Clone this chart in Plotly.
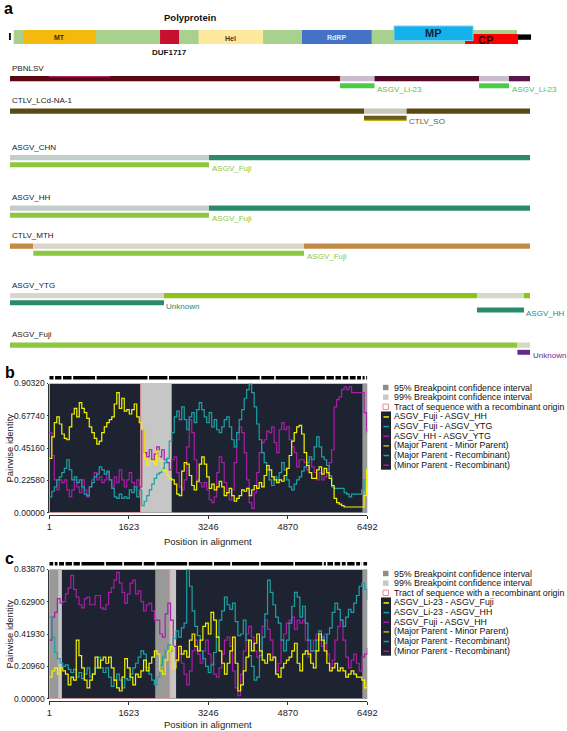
import plotly.graph_objects as go

W, H = 567, 731
def px(x):
    return x / W
def py(y):
    return 1 - y / H

FONT = "Liberation Sans, Arial, sans-serif"

# ======================= DATA =======================
# ---- panel a: genome map (alignment coordinates) ----
genome_span = [47, 6330]
feat_names = ["MT", "DUF1717", "Hel", "RdRP", "CP", "MP"]
feat_start = [170, 1874, 2355, 3646, 5681, 4795]
feat_end = [1075, 2111, 3160, 4515, 6343, 5781]
tail_span = [6343, 6505]
start_mark = [-12, 12]

# ---- panel a: recombinant sequences ----
seq_names = ["PBNLSV", "CTLV_LCd-NA-1", "ASGV_CHN", "ASGV_HH", "CTLV_MTH", "ASGV_YTG", "ASGV_Fuji"]
seq_breaks = [
    [1, 4120, 4551, 5856, 6230, 6492],
    [1, 4420, 4951, 6492],
    [1, 2485, 6492],
    [1, 2485, 6492],
    [1, 292, 3671, 6492],
    [1, 1923, 5830, 6417, 6492],
    [1, 6335, 6492],
]
pbnlsv_stripe = [488, 1249]
# parental tracts shown under each recombinant
parent_row = [0, 0, 1, 2, 3, 4, 5, 5, 6]
parent_level = [0, 0, 0, 0, 0, 0, 0, 1, 0]
parent_start = [4120, 5856, 4420, 1, 1, 292, 1, 5830, 6335]
parent_end = [4551, 6230, 4951, 2485, 2485, 3671, 1923, 6417, 6492]
parent_names = ["ASGV_Li-23", "ASGV_Li-23", "CTLV_SO", "ASGV_Fuji", "ASGV_Fuji",
                "ASGV_Fuji", "Unknown", "ASGV_HH", "Unknown"]

# ---- panel b ----
b_pos = list(range(1, 6492, 51)) + [6492]
b_yellow = [0.38, 0.53, 0.63, 0.67, 0.62, 0.55, 0.52, 0.51, 0.60, 0.69,
            0.73, 0.67, 0.77, 0.73, 0.70, 0.66, 0.60, 0.56, 0.52, 0.48,
            0.50, 0.56, 0.60, 0.63, 0.65, 0.67, 0.76, 0.84, 0.73, 0.80,
            0.71, 0.72, 0.69, 0.72, 0.76, 0.67, 0.63, 0.58, 0.38, 0.33,
            0.36, 0.36, 0.34, 0.43, 0.36, 0.30, 0.29, 0.26, 0.24, 0.23,
            0.20, 0.13, 0.12, 0.29, 0.35, 0.34, 0.26, 0.19, 0.16, 0.22,
            0.34, 0.39, 0.34, 0.25, 0.17, 0.20, 0.16, 0.18, 0.22, 0.18,
            0.12, 0.14, 0.17, 0.12, 0.08, 0.10, 0.12, 0.16, 0.15, 0.17,
            0.12, 0.16, 0.19, 0.17, 0.21, 0.18, 0.26, 0.33, 0.30, 0.25,
            0.23, 0.21, 0.23, 0.22, 0.26, 0.31, 0.40, 0.50, 0.56, 0.60,
            0.61, 0.55, 0.42, 0.33, 0.28, 0.24, 0.24, 0.30, 0.32, 0.27,
            0.31, 0.28, 0.24, 0.19, 0.10, 0.07, 0.06, 0.05, 0.04, 0.04,
            0.04, 0.04, 0.04, 0.04, 0.04, 0.04, 0.12, 0.30, 0.32]
b_teal = [0.11, 0.15, 0.18, 0.23, 0.25, 0.28, 0.31, 0.37, 0.30, 0.23,
          0.25, 0.21, 0.23, 0.18, 0.13, 0.12, 0.18, 0.21, 0.25, 0.27,
          0.32, 0.30, 0.27, 0.29, 0.23, 0.17, 0.11, 0.10, 0.13, 0.10,
          0.11, 0.10, 0.16, 0.14, 0.18, 0.11, 0.16, 0.05, 0.08, 0.12,
          0.16, 0.20, 0.24, 0.27, 0.28, 0.31, 0.35, 0.38, 0.50, 0.56,
          0.67, 0.71, 0.65, 0.74, 0.65, 0.58, 0.67, 0.70, 0.63, 0.72,
          0.77, 0.72, 0.67, 0.63, 0.70, 0.60, 0.65, 0.58, 0.56, 0.60,
          0.65, 0.67, 0.60, 0.51, 0.46, 0.56, 0.65, 0.72, 0.80, 0.86,
          0.90, 0.84, 0.74, 0.62, 0.51, 0.42, 0.35, 0.30, 0.23, 0.19,
          0.25, 0.23, 0.28, 0.35, 0.30, 0.23, 0.18, 0.16, 0.20, 0.23,
          0.25, 0.29, 0.32, 0.35, 0.39, 0.37, 0.46, 0.53, 0.46, 0.39,
          0.37, 0.33, 0.26, 0.18, 0.17, 0.17, 0.17, 0.17, 0.14, 0.13,
          0.11, 0.13, 0.13, 0.13, 0.13, 0.16, 0.23, 0.18, 0.18]
b_magenta = [0.56, 0.40, 0.23, 0.16, 0.23, 0.21, 0.23, 0.16, 0.11, 0.16,
             0.23, 0.18, 0.14, 0.23, 0.16, 0.11, 0.18, 0.23, 0.28, 0.23,
             0.25, 0.21, 0.23, 0.28, 0.23, 0.18, 0.25, 0.21, 0.30, 0.23,
             0.18, 0.23, 0.28, 0.21, 0.16, 0.23, 0.18, 0.58, 0.42, 0.39,
             0.44, 0.37, 0.41, 0.46, 0.39, 0.44, 0.37, 0.35, 0.30, 0.37,
             0.39, 0.28, 0.18, 0.16, 0.23, 0.46, 0.65, 0.56, 0.37, 0.23,
             0.21, 0.18, 0.21, 0.16, 0.09, 0.07, 0.11, 0.28, 0.39, 0.35,
             0.21, 0.14, 0.09, 0.16, 0.35, 0.51, 0.60, 0.56, 0.42, 0.23,
             0.07, 0.03, 0.14, 0.28, 0.42, 0.49, 0.51, 0.57, 0.56, 0.60,
             0.49, 0.42, 0.58, 0.63, 0.58, 0.60, 0.51, 0.46, 0.42, 0.32,
             0.37, 0.37, 0.35, 0.30, 0.37, 0.32, 0.28, 0.23, 0.28, 0.23,
             0.25, 0.30, 0.35, 0.44, 0.74, 0.79, 0.81, 0.86, 0.88, 0.86,
             0.88, 0.84, 0.84, 0.84, 0.84, 0.84, 0.70, 0.58, 0.56]
b_pairs = ["ASGV_Fuji - ASGV_HH", "ASGV_Fuji - ASGV_YTG", "ASGV_HH - ASGV_YTG"]
b_ci99 = [(1867, 2500), (6398, 6492)]
b_ci95 = [(6398, 6492)]
b_tract = (1, 1867)
b_track_gaps = [103, 265, 472, 952, 2022, 2428, 3832, 4312, 4608, 5308, 5641,
                5826, 5973, 6120, 6269, 6379, 6453]
b_yticks = [0.0, 0.2258, 0.4516, 0.6774, 0.9032]

# ---- panel c ----
c_pos = list(range(1, 6491, 55)) + [6492]
c_yellow = [0.14, 0.18, 0.20, 0.16, 0.20, 0.18, 0.16, 0.09, 0.14, 0.12,
            0.38, 0.28, 0.20, 0.12, 0.07, 0.12, 0.16, 0.27, 0.20, 0.25,
            0.27, 0.23, 0.27, 0.20, 0.12, 0.07, 0.05, 0.14, 0.26, 0.20,
            0.14, 0.09, 0.16, 0.14, 0.18, 0.25, 0.18, 0.23, 0.27, 0.31,
            0.29, 0.18, 0.16, 0.25, 0.31, 0.34, 0.20, 0.25, 0.34, 0.29,
            0.31, 0.27, 0.38, 0.42, 0.34, 0.31, 0.38, 0.47, 0.49, 0.42,
            0.56, 0.51, 0.40, 0.31, 0.23, 0.16, 0.23, 0.31, 0.40, 0.23,
            0.05, 0.09, 0.18, 0.27, 0.38, 0.31, 0.36, 0.42, 0.31, 0.25,
            0.23, 0.29, 0.25, 0.27, 0.16, 0.14, 0.20, 0.23, 0.25, 0.27,
            0.31, 0.36, 0.23, 0.18, 0.29, 0.31, 0.29, 0.23, 0.20, 0.31,
            0.42, 0.38, 0.31, 0.23, 0.18, 0.20, 0.23, 0.18, 0.20, 0.18,
            0.14, 0.16, 0.18, 0.16, 0.14, 0.14, 0.12, 0.07, 0.11]
c_teal = [0.53, 0.40, 0.30, 0.26, 0.23, 0.21, 0.22, 0.19, 0.17, 0.19,
          0.14, 0.17, 0.13, 0.16, 0.20, 0.14, 0.16, 0.20, 0.27, 0.20,
          0.17, 0.20, 0.14, 0.08, 0.12, 0.16, 0.12, 0.07, 0.13, 0.12,
          0.16, 0.20, 0.23, 0.27, 0.31, 0.29, 0.20, 0.16, 0.12, 0.09,
          0.14, 0.22, 0.27, 0.31, 0.35, 0.31, 0.39, 0.44, 0.40, 0.46,
          0.49, 0.84, 0.73, 0.57, 0.47, 0.41, 0.31, 0.26, 0.21, 0.17,
          0.22, 0.30, 0.40, 0.51, 0.57, 0.66, 0.61, 0.58, 0.62, 0.50,
          0.41, 0.42, 0.51, 0.38, 0.28, 0.21, 0.12, 0.14, 0.28, 0.40,
          0.55, 0.77, 0.69, 0.61, 0.53, 0.49, 0.38, 0.31, 0.38, 0.49,
          0.60, 0.69, 0.66, 0.53, 0.60, 0.49, 0.38, 0.31, 0.31, 0.38,
          0.44, 0.40, 0.36, 0.42, 0.46, 0.56, 0.62, 0.58, 0.51, 0.47,
          0.53, 0.58, 0.56, 0.62, 0.67, 0.73, 0.75, 0.71, 0.64]
c_magenta = [0.38, 0.53, 0.56, 0.65, 0.62, 0.63, 0.68, 0.72, 0.80, 0.71,
             0.66, 0.61, 0.59, 0.65, 0.66, 0.61, 0.61, 0.67, 0.67, 0.59,
             0.58, 0.61, 0.69, 0.72, 0.77, 0.82, 0.75, 0.69, 0.62, 0.68,
             0.75, 0.77, 0.68, 0.70, 0.63, 0.57, 0.61, 0.62, 0.57, 0.51,
             0.51, 0.42, 0.40, 0.55, 0.62, 0.51, 0.34, 0.24, 0.29, 0.23,
             0.16, 0.09, 0.18, 0.31, 0.38, 0.29, 0.23, 0.31, 0.38, 0.29,
             0.23, 0.16, 0.14, 0.20, 0.29, 0.38, 0.40, 0.34, 0.18, 0.07,
             0.02, 0.16, 0.31, 0.42, 0.47, 0.40, 0.31, 0.27, 0.31, 0.47,
             0.51, 0.45, 0.38, 0.27, 0.18, 0.23, 0.38, 0.42, 0.49, 0.51,
             0.53, 0.45, 0.51, 0.49, 0.51, 0.38, 0.27, 0.31, 0.38, 0.42,
             0.38, 0.34, 0.42, 0.29, 0.20, 0.25, 0.38, 0.47, 0.51, 0.38,
             0.27, 0.20, 0.25, 0.29, 0.23, 0.18, 0.27, 0.29, 0.33]
c_pairs = ["ASGV_Li-23 - ASGV_Fuji", "ASGV_Li-23 - ASGV_HH", "ASGV_Fuji - ASGV_HH"]
c_ci99 = [(1, 258), (2170, 2589), (6397, 6492)]
c_ci95 = [(1, 185), (2170, 2464), (6397, 6492)]
c_tract = (1, 2464)
c_track_gaps = [97, 185, 317, 479, 641, 1140, 1508, 1912, 2170, 2831, 3346, 3713,
                4301, 5000, 5588, 5661, 5808, 5955, 6066, 6249, 6360, 6397]
c_yticks = [0.0, 0.2096, 0.4193, 0.629, 0.8387]

x_ticks = [1, 1623, 3246, 4870, 6492]
role_names = ["(Major Parent - Minor Parent)", "(Major Parent - Recombinant)",
              "(Minor Parent - Recombinant)"]
ci_labels = ["95% Breakpoint confidence interval", "99% Breakpoint confidence interval",
             "Tract of sequence with a recombinant origin"]

# ======================= STYLE / LAYOUT =======================
feat_colors = ["#f5b80c", "#c8102e", "#fde89c", "#4472c4", "#ff0000", "#14b2ec"]
feat_y = [(30, 44), (30, 44), (30, 44), (30, 44), (34, 44), (26, 40.5)]
feat_label = {"MT": (7, "#3b2b00", 37), "Hel": (7, "#3a3a20", 38), "RdRP": (7, "#e6e8f5", 37),
              "MP": (11, "#0b2236", 32.5), "CP": (11, "#3a0000", 39.5)}
feat_label_dx = {"MT": 0, "Hel": 0, "RdRP": 0, "MP": 0, "CP": -6}
seq_colors = [
    ["#5b0610", "#c9bccb", "#520826", "#c9bccb", "#5a1452"],
    ["#5a4a12", "#c9c6ba", "#5a4a12"],
    ["#c3cdc9", "#2a8a6e"],
    ["#c3cdc9", "#2a8a6e"],
    ["#c28b45", "#d9d5c9", "#c28b45"],
    ["#d6d9ca", "#8dc21c", "#d6d9ca", "#8dc21c"],
    ["#8dc63f", "#d4d8c4"],
]
parent_colors = {"ASGV_Li-23": ("#4ccb48", "#52c44e"), "CTLV_SO": ("#6b5a1a", "#6b5a1e"),
                 "ASGV_Fuji": ("#8dc63f", "#8dc63f"), "Unknown": ("#2a8a6e", "#2a8a6e"),
                 "ASGV_HH": ("#2a8a6e", "#2a8a6e")}
label_y = [68, 100.5, 147, 197.5, 235.5, 285, 334.5]
BAR_OFF, BAR_H, SUB_GAP, SUB_H = 8.0, 5.3, 2.0, 5.0

YELLOW, TEAL, MAGENTA = "#f2f200", "#1ba2a6", "#a81ea6"
DARK = "#1d2331"
GRAY99, GRAY95 = "#c6c6c6", "#999999"
PINK = "#f2a0a0"

shapes, annotations, traces = [], [], []

def rect(xref, yref, x0, x1, y0, y1, fill, lc="rgba(0,0,0,0)", lw=0, layer="above"):
    shapes.append(dict(type="rect", xref=xref, yref=yref, x0=x0, x1=x1, y0=y0, y1=y1,
                       fillcolor=fill, layer=layer, line=dict(color=lc, width=lw)))

def text(x, y, s, size=9, color="#111", xref="paper", yref="paper", xanchor="left",
         bold=False, angle=0, xshift=0):
    annotations.append(dict(x=x, y=y, xref=xref, yref=yref, text=("<b>%s</b>" % s) if bold else s,
                            showarrow=False, xanchor=xanchor, yanchor="middle", textangle=angle,
                            xshift=xshift, font=dict(family=FONT, size=size, color=color),
                            borderpad=0))

# ---------- panel a ----------
rect("x", "y", start_mark[0], start_mark[1], 33, 40, "#111")
rect("x", "y", genome_span[0], genome_span[1], 30, 44, "#a9d18e")
for n, s, e, c, (y0, y1) in zip(feat_names, feat_start, feat_end, feat_colors, feat_y):
    lc = "#7fd0ee" if n == "MP" else "rgba(0,0,0,0)"
    rect("x", "y", s, e, y0, y1, c, lc=lc, lw=1 if n == "MP" else 0)
rect("x", "y", tail_span[0], tail_span[1], 34.4, 39.8, "#000")
for n, s, e in zip(feat_names, feat_start, feat_end):
    if n in feat_label:
        sz, col, yy = feat_label[n]
        text((s + e) / 2, yy, n, size=sz, color=col, xref="x", yref="y", xanchor="center",
             bold=True, xshift=feat_label_dx[n])
text((feat_start[1] + feat_end[1]) / 2, 52.5, "DUF1717", size=8, color="#111", xref="x", yref="y",
     xanchor="center", bold=True)
text(px(190), py(18), "Polyprotein", size=9.5, color="#111", xanchor="center", bold=True)

for i, (name, br) in enumerate(zip(seq_names, seq_breaks)):
    top = label_y[i] + BAR_OFF
    text(br[0], label_y[i], name, size=8, color="#1a1a1a", xref="x", yref="y", xshift=1)
    for j in range(len(br) - 1):
        rect("x", "y", br[j], br[j + 1], top, top + BAR_H, seq_colors[i][j])
    if i == 0:
        rect("x", "y", pbnlsv_stripe[0], pbnlsv_stripe[1], top, top + 1.2, "#b0246e")
for r, lv, s, e, n in zip(parent_row, parent_level, parent_start, parent_end, parent_names):
    top = label_y[r] + BAR_OFF + BAR_H + SUB_GAP + lv * (SUB_H + 2.3)
    fill, tc = parent_colors[n]
    if r == 6:
        fill, tc = "#6a2a8a", "#6a2a8a"
    rect("x", "y", s, e, top, top + SUB_H, fill)
    if n == "CTLV_SO":
        rect("x", "y", s, e, top + SUB_H - 1, top + SUB_H, "#c8c400")
    text(e, top + SUB_H + 1, n, size=8, color=tc, xref="x", yref="y", xshift=1.5)

# ---------- panels b and c ----------
def track_xy(gaps, half=16):
    xs, ys, start = [], [], 1
    for g in gaps:
        xs += [start, g - half, None]
        ys += [0.5, 0.5, None]
        start = g + half
    xs += [start, 6492]
    ys += [0.5, 0.5]
    return xs, ys

def panel(xa, ya, ta, pos, series, top_val, ci99, ci95, tract, gaps, pairs, top_px, letter,
          xtitle_px):
    xr, yr = xa.replace("axis", ""), ya.replace("axis", "")
    rect(xr, yr, 1, 6492, 0, top_val, DARK, layer="below")
    for s, e in ci99:
        rect(xr, yr, s, e, 0, top_val, GRAY99, layer="below")
    for s, e in ci95:
        rect(xr, yr, s, e, 0, top_val, GRAY95, layer="below")
    rect(xr, yr, tract[0], tract[1], 0, top_val, "rgba(0,0,0,0)", lc=PINK, lw=1, layer="below")
    for vals, col in zip(series, [MAGENTA, TEAL, YELLOW]):
        traces.append(go.Scatter(x=pos, y=vals, mode="lines", xaxis=xr, yaxis=yr,
                                 line=dict(color=col, width=1.2, shape="hv"), showlegend=False,
                                 hoverinfo="skip"))
    tx, ty = track_xy(gaps)
    traces.append(go.Scatter(x=tx, y=ty, mode="lines", xaxis=xr, yaxis=ta.replace("axis", ""),
                             line=dict(color="#000", width=3.5), showlegend=False,
                             hoverinfo="skip"))
    # letter, axis titles
    text(px(4), py(top_px - 11), letter, size=16, color="#000", bold=True)
    text(px(9.5), py(top_px + 64.6), "Pairwise identity", size=9.5, color="#222",
         xanchor="center", angle=-90)
    text(px(208.3), py(xtitle_px), "Position in alignment", size=9.5, color="#222",
         xanchor="center")
    # legend
    lx, ty0, step = 392.7, top_px + 4, 9.65
    sw_x0, sw_x1 = 383, 388.5
    for k, lab in enumerate(ci_labels):
        yy = ty0 + k * step
        if k == 0:
            rect("paper", "paper", px(sw_x0), px(sw_x1), py(yy + 2.7), py(yy - 2.7), "#8c8c8c")
        elif k == 1:
            rect("paper", "paper", px(sw_x0), px(sw_x1), py(yy + 2.7), py(yy - 2.7), "#c8c8c8")
        else:
            rect("paper", "paper", px(sw_x0), px(sw_x1), py(yy + 2.7), py(yy - 2.7), "white",
                 lc="#f08a8a", lw=1)
        text(px(lx), py(yy), lab, size=8.8, color="#111")
    box_top = ty0 + 3 * step - 5
    box_bot = ty0 + 8 * step + 5
    rect("paper", "paper", px(381), px(391), py(box_bot), py(box_top), DARK)
    names = pairs + role_names
    cols = [YELLOW, TEAL, MAGENTA, "#b8b820", TEAL, MAGENTA]
    for k, (lab, col) in enumerate(zip(names, cols)):
        yy = ty0 + (3 + k) * step
        shapes.append(dict(type="line", xref="paper", yref="paper", x0=px(383.5), x1=px(389),
                           y0=py(yy + 0.5), y1=py(yy + 0.5), line=dict(color=col, width=1.5)))
        text(px(lx), py(yy), lab, size=8.8, color="#111")

B_TOP, B_BOT = 383.5, 512.7
C_TOP, C_BOT = 569.5, 698.7
panel("xaxis2", "yaxis2", "yaxis4", b_pos, [b_magenta, b_teal, b_yellow], b_yticks[-1],
      b_ci99, b_ci95, b_tract, b_track_gaps, b_pairs, B_TOP, "b", 541)
panel("xaxis3", "yaxis3", "yaxis5", c_pos, [c_magenta, c_teal, c_yellow], c_yticks[-1],
      c_ci99, c_ci95, c_tract, c_track_gaps, c_pairs, C_TOP, "c", 724.5)
text(px(3), py(8), "a", size=16, color="#000", bold=True)

fig = go.Figure(traces)
xdom = [px(49.3), px(367.3)]
def xax(pos_px):
    return dict(domain=xdom, range=[1, 6492], anchor="free", position=py(pos_px),
                showline=True, linecolor="#333", linewidth=1, ticks="outside", ticklen=3,
                tickcolor="#333", tickvals=x_ticks, ticktext=[str(v) for v in x_ticks],
                tickfont=dict(family=FONT, size=9.3, color="#222"), showgrid=False,
                zeroline=False, automargin=False)
def yax(top, bot, ticks):
    return dict(domain=[py(bot), py(top)], range=[0, ticks[-1]], anchor="free",
                position=px(47.5), showline=True, linecolor="#333", linewidth=1,
                ticks="outside", ticklen=1, tickcolor="#333", tickvals=ticks,
                ticktext=["%.5f" % v for v in ticks],
                tickfont=dict(family=FONT, size=8.5, color="#222"), showgrid=False,
                zeroline=False, automargin=False)
a_scale = 6491 / 520
fig.update_layout(
    template="none",
    width=W, height=H, margin=dict(l=0, r=0, t=0, b=0, pad=0), autosize=False,
    paper_bgcolor="white", plot_bgcolor="white", showlegend=False,
    xaxis=dict(domain=[0, 1], range=[1 - 10 * a_scale, 1 + 557 * a_scale], visible=False,
               automargin=False),
    yaxis=dict(domain=[py(360), 1], range=[360, 0], visible=False, automargin=False),
    xaxis2=xax(B_BOT + 2.3),
    yaxis2=yax(B_TOP, B_BOT, b_yticks),
    xaxis3=xax(C_BOT + 2.3),
    yaxis3=yax(C_TOP, C_BOT, c_yticks),
    yaxis4=dict(domain=[py(B_TOP - 3), py(B_TOP - 8.5)], range=[0, 1], anchor="x2",
                visible=False, automargin=False),
    yaxis5=dict(domain=[py(C_TOP - 3), py(C_TOP - 8.5)], range=[0, 1], anchor="x3",
                visible=False, automargin=False),
    shapes=shapes, annotations=annotations,
)
fig.write_html("out.html", config={"displayModeBar": False, "staticPlot": True},
               post_script="document.body.style.margin='0';document.body.style.padding='0';"
                           "document.body.style.overflow='hidden';")
